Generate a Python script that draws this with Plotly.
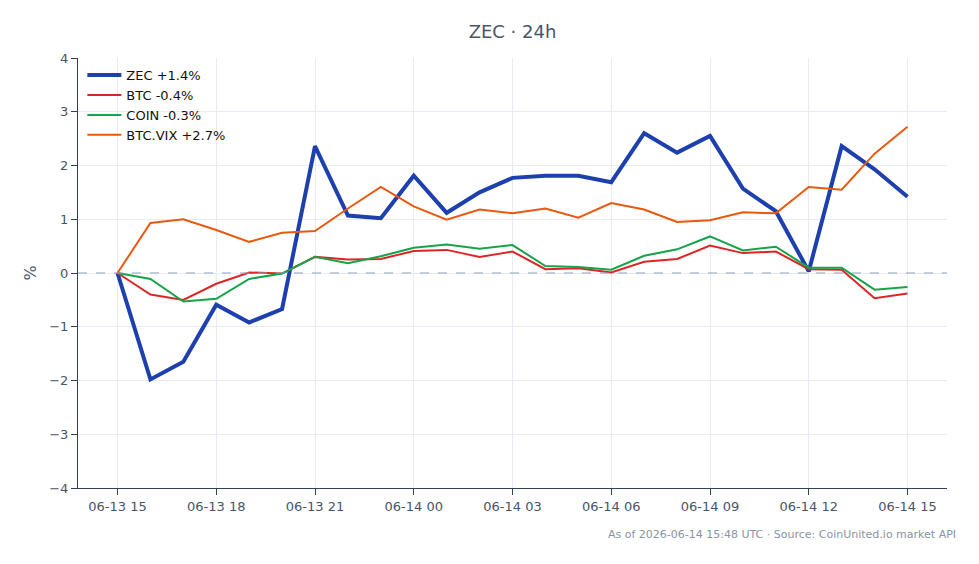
import pandas as pd
import plotly.graph_objects as go

times = pd.date_range("2026-06-13 15:00", "2026-06-14 15:00", freq="h")

zec = [0.0, -1.98, -1.65, -0.59, -0.92, -0.67, 2.36, 1.07, 1.02, 1.81, 1.12, 1.50,
       1.77, 1.81, 1.81, 1.69, 2.60, 2.24, 2.55, 1.57, 1.15, 0.03, 2.36, 1.93, 1.42]
btc = [0.0, -0.40, -0.50, -0.20, 0.01, -0.01, 0.30, 0.25, 0.26, 0.41, 0.43, 0.30,
       0.40, 0.07, 0.09, 0.01, 0.21, 0.26, 0.51, 0.37, 0.40, 0.07, 0.06, -0.47, -0.38]
coin = [0.0, -0.11, -0.53, -0.48, -0.11, -0.01, 0.30, 0.18, 0.31, 0.47, 0.53, 0.45,
        0.52, 0.13, 0.11, 0.06, 0.32, 0.44, 0.68, 0.42, 0.49, 0.10, 0.10, -0.31, -0.26]
vix = [0.0, 0.93, 1.00, 0.80, 0.58, 0.75, 0.78, 1.20, 1.60, 1.24, 0.99, 1.18,
       1.11, 1.20, 1.03, 1.30, 1.18, 0.95, 0.98, 1.13, 1.11, 1.60, 1.55, 2.22, 2.72]

series = [
    ("ZEC +1.4%", zec, "#1e40af", 4),
    ("BTC -0.4%", btc, "#dc2626", 2),
    ("COIN -0.3%", coin, "#16a34a", 2),
    ("BTC.VIX +2.7%", vix, "#ea580c", 2),
]

tick_vals = pd.date_range("2026-06-13 15:00", "2026-06-14 15:00", freq="3h")
tick_text = [t.strftime("%m-%d %H") for t in tick_vals]

FONT = "DejaVu Sans"
fig = go.Figure()
for name, vals, color, w in series:
    fig.add_trace(go.Scatter(x=times, y=vals, mode="lines", name=name,
                             line=dict(color=color, width=w)))

fig.add_hline(y=0, line=dict(color="#8fa1bf", width=1, dash="dash"))

pad = pd.Timedelta(hours=1.2)
fig.update_layout(
    width=979, height=564,
    margin=dict(l=78, r=32, t=58, b=76),
    paper_bgcolor="white", plot_bgcolor="white",
    font=dict(family=FONT, size=13, color="#475569"),
    title=dict(text="ZEC · 24h", x=0.5, xref="paper", xanchor="center", y=0.943, yanchor="middle",
               font=dict(family=FONT, size=18, color="#4a5568")),
    legend=dict(x=0.005, y=0.995, xanchor="left", yanchor="top", itemwidth=34,
                bgcolor="rgba(255,255,255,0)", font=dict(size=13, color="#111111")),
    xaxis=dict(range=[times[0] - pad, times[-1] + pad], tickvals=tick_vals, ticktext=tick_text,
               showgrid=True, gridcolor="#e8ecf2", showline=True, linecolor="#334155",
               ticks="outside", tickcolor="#334155", ticklen=6, zeroline=False,
               tickfont=dict(size=13, color="#475569")),
    yaxis=dict(range=[-4, 4], dtick=1, showgrid=True, gridcolor="#e8ecf2", showline=True,
               linecolor="#334155", ticks="outside", tickcolor="#334155", ticklen=6,
               zeroline=False, title=dict(text="%", standoff=8),
               tickfont=dict(size=13, color="#475569")),
    annotations=[dict(text="As of 2026-06-14 15:48 UTC · Source: CoinUnited.io market API",
                      xref="paper", yref="paper", x=1.0127, y=-0.107,
                      xanchor="right", yanchor="middle", showarrow=False,
                      font=dict(family=FONT, size=11, color="#8a94a3"))],
)

fig.write_html("out.html")
